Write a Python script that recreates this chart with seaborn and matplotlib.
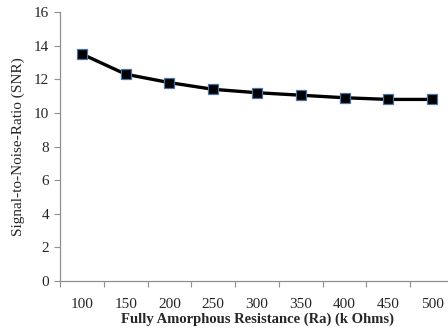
import numpy as np
import pandas as pd
import seaborn as sns
import matplotlib.pyplot as plt
from matplotlib.ticker import FixedLocator

resistance = ['100', '150', '200', '250', '300', '350', '400', '450', '500']
snr = [13.5, 12.3, 11.8, 11.4, 11.2, 11.05, 10.9, 10.8, 10.8]

df = pd.DataFrame({'Ra': resistance, 'SNR': snr})

sns.set_style('white')
plt.rcParams['font.family'] = ['Liberation Serif', 'DejaVu Serif']

fig = plt.figure(figsize=(4.48, 3.32), dpi=100)
ax = fig.add_axes([60 / 448, 51 / 332, 394 / 448, 269 / 332])

sns.pointplot(data=df, x='Ra', y='SNR', ax=ax, color='black', markers='s',
              linestyles='-', markersize=6.5, markeredgecolor='#4f73a8',
              markeredgewidth=0.9, linewidth=2.4)

ax.set_xlim(-0.5, len(resistance) - 0.5)
ax.set_ylim(0, 16)
ax.set_yticks(np.arange(0, 17, 2))
ax.tick_params(axis='y', left=True, length=4, width=0.8, color='#909090',
               labelsize=11, pad=4)
ax.tick_params(axis='x', which='major', bottom=True, length=0, labelsize=11, pad=12)
ax.xaxis.set_minor_locator(FixedLocator(np.arange(-0.5, len(resistance), 1.0)))
ax.tick_params(axis='x', which='minor', bottom=True, length=4, width=0.8,
               color='#909090', direction='out')

for s in ['top', 'right']:
    ax.spines[s].set_visible(False)
for s in ['left', 'bottom']:
    ax.spines[s].set_color('#909090')
    ax.spines[s].set_linewidth(0.9)

ax.set_xlabel('Fully Amorphous Resistance (Ra) (k Ohms)', fontsize=10.5,
              fontweight='bold', labelpad=1)
ax.set_ylabel('Signal-to-Noise-Ratio (SNR)', fontsize=11, labelpad=6)

fig.savefig('out.png', dpi=100)
